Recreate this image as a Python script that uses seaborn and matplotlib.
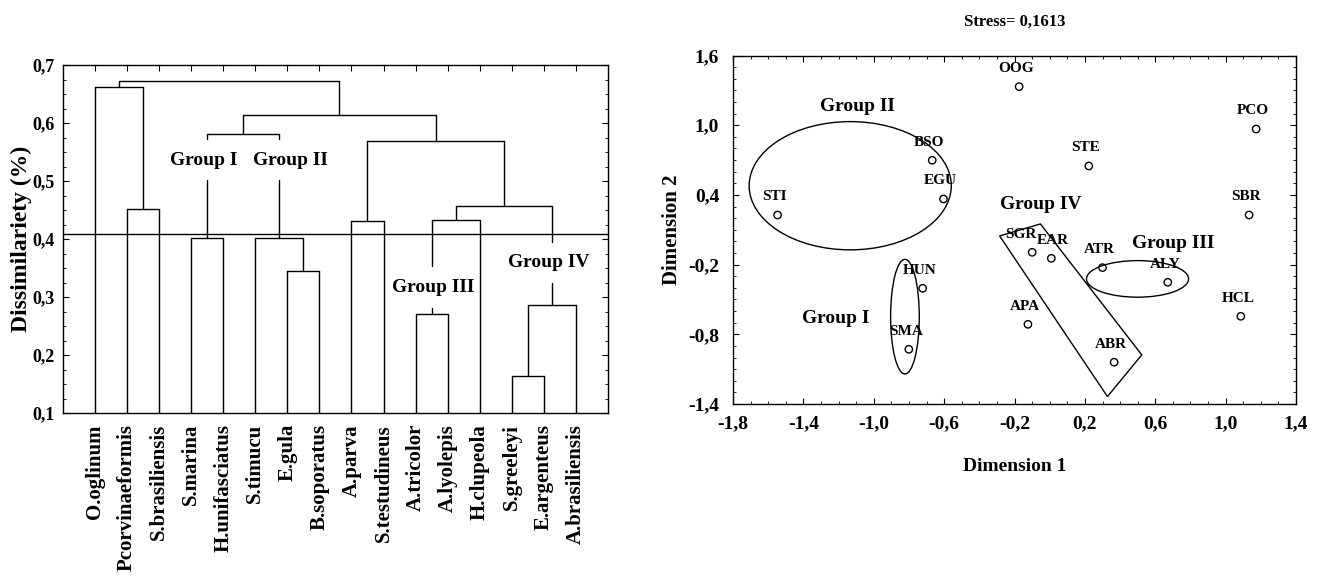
from matplotlib import pyplot as plt
from matplotlib.patches import Ellipse, Polygon
from matplotlib.ticker import MultipleLocator, FuncFormatter
import pandas as pd
import seaborn as sns

##Cluster analysis (dendrogram) data##
species = ["O.oglinum", "Pcorvinaeformis", "S.brasiliensis", "S.marina", "H.unifasciatus",
           "S.timucu", "E.gula", "B.soporatus", "A.parva", "S.testudineus", "A.tricolor",
           "A.lyolepis", "H.clupeola", "S.greeleyi", "E.argenteus", "A.brasiliensis"]

# every merge joins two members (a species or an earlier node n0, n1, ...) at a dissimilarity
merge_left = ["Pcorvinaeformis", "O.oglinum", "S.marina", "E.gula", "S.timucu", "n2",
              "A.parva", "A.tricolor", "n7", "S.greeleyi", "n9", "n8", "n6", "n5", "n1"]
merge_right = ["S.brasiliensis", "n0", "H.unifasciatus", "B.soporatus", "n3", "n4",
               "S.testudineus", "A.lyolepis", "H.clupeola", "E.argenteus", "A.brasiliensis",
               "n10", "n11", "n12", "n13"]
merge_height = [0.451, 0.662, 0.401, 0.344, 0.401, 0.581,
                0.431, 0.271, 0.433, 0.163, 0.286, 0.457, 0.569, 0.613, 0.673]
cut_level = 0.409

group_names = ["Group I", "Group II", "Group III", "Group IV"]
group_nodes = ["n2", "n4", "n7", "n10"]
group_gap = [(0.501, 0.573), (0.501, 0.573), (0.281, 0.353), (0.324, 0.395)]
group_text_x = [4.4, 7.1, 11.55, 15.15]
group_text_y = [0.535, 0.535, 0.317, 0.36]

##nMDS ordination data##
codes = ["OOG", "PCO", "BSO", "STE", "EGU", "STI", "SBR", "SGR", "EAR", "ATR", "ALY",
         "HUN", "HCL", "APA", "SMA", "ABR"]
dim1 = [-0.174, 1.173, -0.668, 0.222, -0.604, -1.547, 1.133, -0.100, 0.009, 0.300, 0.671,
        -0.722, 1.086, -0.124, -0.801, 0.366]
dim2 = [1.332, 0.967, 0.698, 0.649, 0.365, 0.227, 0.227, -0.094, -0.146, -0.226, -0.352,
        -0.404, -0.645, -0.714, -0.929, -1.040]
stress = "0,1613"
dim1_ticks = [-1.8, -1.4, -1.0, -0.6, -0.2, 0.2, 0.6, 1.0, 1.4]
dim2_ticks = [-1.4, -0.8, -0.2, 0.4, 1.0, 1.6]

# groups drawn on the ordination
ell_center = [(-0.823, -0.648), (-1.134, 0.479), (0.499, -0.323)]
ell_width = [0.163, 1.149, 0.580]
ell_height = [0.987, 1.104, 0.315]
box_corners = [(-0.285, 0.047), (-0.053, 0.150), (0.523, -0.977), (0.328, -1.336)]
mds_group_x = [-1.219, -1.095, 0.703, -0.053]
mds_group_y = [-0.662, 1.165, -0.022, 0.319]

mds = pd.DataFrame({"code": codes, "Dimension 1": dim1, "Dimension 2": dim2})

sns.set_style("ticks")
plt.rcParams['font.family'] = ['Liberation Serif', 'DejaVu Serif']
plt.rcParams['font.weight'] = 'bold'
plt.rcParams['axes.linewidth'] = 1.0
for key in ['text.color', 'axes.labelcolor', 'xtick.color', 'ytick.color', 'axes.edgecolor']:
    plt.rcParams[key] = 'black'


def comma(v, pos=None):
    return f"{v:.1f}".replace(".", ",")


fig = plt.figure(figsize=(13.17, 5.88), dpi=100)
ax1 = fig.add_axes([0.0478, 0.2976, 0.4138, 0.5918])
ax2 = fig.add_axes([0.5566, 0.3129, 0.4275, 0.5927])

'''Dendrogram'''
xpos = {name: i + 1 for i, name in enumerate(species)}
ypos = {name: 0.1 for name in species}
for i in range(len(merge_height)):
    node = "n%d" % i
    xpos[node] = (xpos[merge_left[i]] + xpos[merge_right[i]]) / 2
    ypos[node] = merge_height[i]

gaps = dict(zip(group_nodes, group_gap))


def branch(child, top):
    x = xpos[child]
    if child in gaps:
        lo, hi = gaps[child]
        ax1.plot([x, x], [top, hi], color="black", lw=1)
        ax1.plot([x, x], [lo, ypos[child]], color="black", lw=1)
    else:
        ax1.plot([x, x], [top, ypos[child]], color="black", lw=1)


for i in range(len(merge_height)):
    h = merge_height[i]
    a, b = merge_left[i], merge_right[i]
    ax1.plot([xpos[a], xpos[b]], [h, h], color="black", lw=1)
    branch(a, h)
    branch(b, h)

ax1.axhline(cut_level, color="black", lw=1)

for name, gx, gy in zip(group_names, group_text_x, group_text_y):
    ax1.text(gx, gy, name, ha="center", va="center", fontsize=14, fontweight="bold")

ax1.set_xlim(0, 17)
ax1.set_ylim(0.1, 0.7)
ax1.set_xticks(range(1, len(species) + 1))
ax1.set_xticklabels(species, rotation=90, fontsize=15, fontweight="bold")
ax1.yaxis.set_major_locator(MultipleLocator(0.1))
ax1.yaxis.set_minor_locator(MultipleLocator(0.025))
ax1.yaxis.set_major_formatter(FuncFormatter(comma))
ax1.tick_params(axis="x", direction="in", top=True, length=4, pad=8)
ax1.tick_params(axis="y", which="major", direction="in", right=True, length=4, pad=6,
                labelsize=13)
ax1.tick_params(axis="y", which="minor", direction="in", right=True, length=2.5)
ax1.set_ylabel("Dissimilariety (%)", fontsize=17, fontweight="bold")
ax1.yaxis.set_label_coords(-0.057, 0.5)

'''nMDS plot'''
sns.scatterplot(data=mds, x="Dimension 1", y="Dimension 2", ax=ax2, marker="o", s=28,
                facecolor="none", edgecolor="black", linewidth=1, zorder=3)
# SGR and EAR sit close together, nudge them apart a little
nudge = {"SGR": -8, "EAR": 1}
for code, x, y in zip(codes, dim1, dim2):
    ax2.annotate(code, (x, y), xytext=(nudge.get(code, -2), 13), textcoords="offset points",
                 ha="center", va="center", fontsize=11, fontweight="bold")

for c, w, h in zip(ell_center, ell_width, ell_height):
    ax2.add_patch(Ellipse(c, w, h, fill=False, edgecolor="black", lw=1))
ax2.add_patch(Polygon(box_corners, closed=True, fill=False, edgecolor="black", lw=1))

for name, gx, gy in zip(group_names, mds_group_x, mds_group_y):
    ax2.text(gx, gy, name, ha="center", va="center", fontsize=14, fontweight="bold")

ax2.set_xlim(-1.8, 1.4)
ax2.set_ylim(-1.4, 1.6)
ax2.set_xticks(dim1_ticks)
ax2.set_yticks(dim2_ticks)
ax2.xaxis.set_minor_locator(MultipleLocator(0.1))
ax2.yaxis.set_minor_locator(MultipleLocator(0.1))
ax2.xaxis.set_major_formatter(FuncFormatter(comma))
ax2.yaxis.set_major_formatter(FuncFormatter(comma))
ax2.tick_params(which="major", direction="in", top=True, right=True, length=4,
                labelsize=14)
ax2.tick_params(which="minor", direction="in", top=True, right=True, length=2.5)
ax2.tick_params(axis="x", pad=8)
ax2.tick_params(axis="y", pad=10)
ax2.set_xlabel("Dimension 1", fontsize=14, fontweight="bold")
ax2.set_ylabel("Dimension 2", fontsize=15, fontweight="bold")
ax2.xaxis.set_label_coords(0.5, -0.155)
ax2.yaxis.set_label_coords(-0.09, 0.5)
ax2.text(0.5, 1.096, "Stress= " + stress, transform=ax2.transAxes, ha="center",
         va="center", fontsize=12, fontweight="bold")

fig.savefig("out.png", dpi=100)
